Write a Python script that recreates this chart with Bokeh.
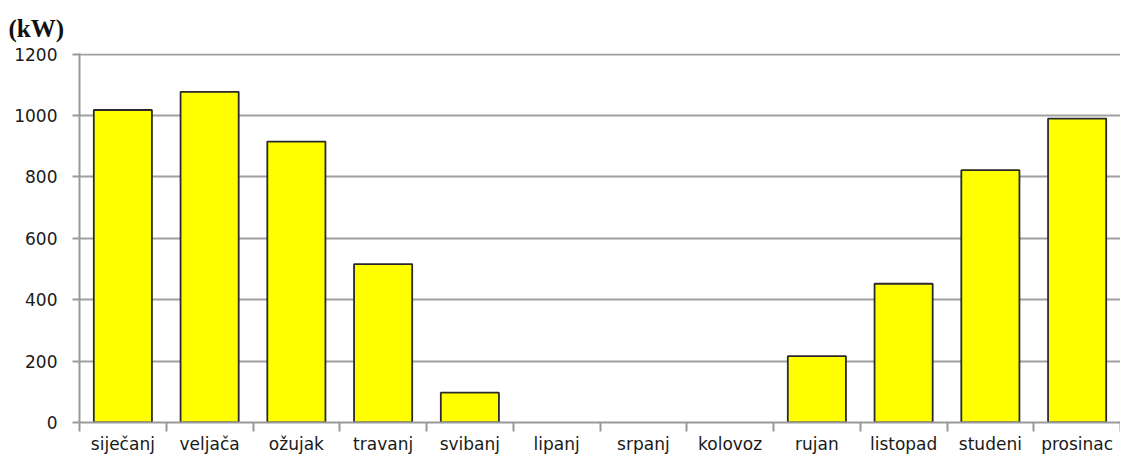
import numpy as np
from bokeh.plotting import figure
from bokeh.models import Range1d, FixedTicker, ColumnDataSource, CDSView, BooleanFilter
from bokeh.embed import file_html
from bokeh.resources import INLINE

months = ["siječanj", "veljača", "ožujak", "travanj", "svibanj", "lipanj",
          "srpanj", "kolovoz", "rujan", "listopad", "studeni", "prosinac"]
power_kw = [1018, 1077, 915, 516, 97, 0, 0, 0, 216, 452, 822, 990]
y_ticks = [0, 200, 400, 600, 800, 1000, 1200]
unit_label = "(kW)"

pos = np.arange(len(months)) + 0.5
src = ColumnDataSource(dict(x=pos, top=power_kw, month=months))
view = CDSView(filter=BooleanFilter([v > 0 for v in power_kw]))

p = figure(width=1120, height=456, output_backend="svg", toolbar_location=None,
           x_range=Range1d(0, len(months)), y_range=Range1d(0, 1202),
           min_border_left=79, min_border_right=0, min_border_top=8,
           min_border_bottom=0)

p.title.text = unit_label
p.title.text_font = "Liberation Serif"
p.title.text_font_style = "bold"
p.title.text_font_size = "25px"
p.title.text_color = "#111111"
p.title.align = "left"
p.title.offset = -71
p.title.standoff = 24

p.outline_line_color = None
p.background_fill_color = "white"
p.border_fill_color = "white"

p.vbar(x="x", top="top", width=0.67, bottom=0, source=src, view=view,
       fill_color="#FFFF00", line_color="#2a2a2a", line_width=1.8)

# x axis: labels at centres, ticks at boundaries
xa = p.xaxis[0]
xa.ticker = FixedTicker(ticks=list(pos), minor_ticks=list(range(len(months) + 1)))
xa.major_label_overrides = {float(x): m for x, m in zip(pos, months)}
xa.major_tick_out = 0
xa.major_tick_in = 0
xa.minor_tick_out = 9
xa.minor_tick_in = 0
xa.minor_tick_line_color = "#999999"
xa.minor_tick_line_width = 2
xa.axis_line_color = "#999999"
xa.axis_line_width = 2
xa.major_label_standoff = 2
xa.major_label_text_font = "DejaVu Sans"
xa.major_label_text_font_size = "17px"
xa.major_label_text_color = "#1a1a1a"

ya = p.yaxis[0]
ya.ticker = FixedTicker(ticks=y_ticks)
ya.minor_tick_line_color = None
ya.major_tick_out = 7
ya.major_tick_in = 0
ya.major_tick_line_color = "#999999"
ya.major_tick_line_width = 2
ya.axis_line_color = "#999999"
ya.axis_line_width = 2
ya.major_label_standoff = 15
ya.major_label_text_font = "DejaVu Sans"
ya.major_label_text_font_size = "17px"
ya.major_label_text_color = "#1a1a1a"

p.xgrid.grid_line_color = None
p.ygrid.ticker = FixedTicker(ticks=y_ticks)
p.ygrid.grid_line_color = "#a0a0a0"
p.ygrid.grid_line_width = 2

open("out.html", "w").write(file_html(p, INLINE))
